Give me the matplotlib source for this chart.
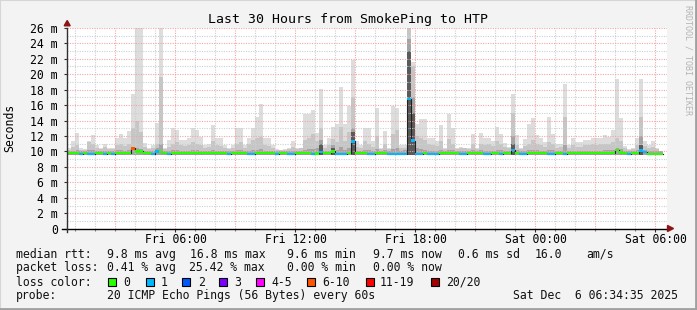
import numpy as np
import matplotlib
matplotlib.use("Agg")
import matplotlib.pyplot as plt
from matplotlib.patches import Rectangle, Polygon

W, H = 697, 310
MONO = "DejaVu Sans Mono"

# time base: Fri 00:34:35, 12 minute consolidated steps
start_hour = 34 / 60 + 35 / 3600
step_hours = 0.2

# lowest single ping seen (smoke floor), ms
min_ms = 9.6

# smoke: top of light / medium / dark layers (ms)
max_ms = [
    10.4, 11.3, 12.4, 10.4, 10.3, 11.3, 12.1, 10.8, 10.5, 10.9,
    10.4, 10.5, 11.8, 12.3, 11.8, 12.6, 17.4, 26.0, 26.0, 11.1,
    10.4, 10.8, 13.7, 26.0, 10.4, 11.5, 13.0, 12.8, 11.5, 11.5,
    11.8, 13.0, 12.8, 11.9, 10.8, 11.0, 13.4, 11.8, 11.8, 10.8,
    10.5, 10.8, 13.0, 13.0, 10.8, 11.8, 13.0, 14.5, 16.1, 11.7,
    11.7, 10.8, 10.3, 10.2, 10.3, 10.5, 11.3, 10.5, 10.5, 14.9,
    14.9, 15.4, 12.4, 18.1, 10.8, 11.7, 13.1, 13.5, 18.4, 13.5,
    15.9, 21.8, 11.3, 10.8, 13.0, 13.0, 11.3, 15.6, 10.4, 12.6,
    10.4, 15.9, 15.6, 10.8, 10.8, 26.0, 21.6, 13.6, 14.2, 14.2,
    11.7, 11.8, 11.3, 13.4, 10.4, 14.8, 13.0, 10.4, 10.6, 10.5,
    10.4, 12.3, 10.4, 12.4, 11.7, 11.7, 11.4, 13.1, 12.3, 11.1,
    10.6, 17.4, 12.1, 10.5, 11.6, 13.5, 14.3, 12.1, 11.7, 11.2,
    14.4, 12.3, 11.0, 11.0, 18.7, 10.8, 11.7, 11.2, 11.2, 11.5,
    11.5, 11.8, 11.7, 11.7, 12.1, 11.9, 12.8, 19.4, 14.3, 10.7,
    10.3, 10.5, 11.8, 19.4, 11.4, 10.8, 11.3, 10.4, 10.1,
]
mid_ms = [
    10.2, 10.6, 10.8, 10.2, 10.2, 11.2, 11.0, 10.5, 10.3, 10.6,
    10.3, 10.3, 10.8, 11.0, 10.7, 11.0, 13.0, 13.9, 12.5, 10.6,
    10.3, 10.5, 11.0, 19.6, 10.3, 10.6, 11.0, 11.2, 10.8, 10.7,
    10.8, 11.2, 11.0, 10.8, 10.5, 10.6, 11.3, 10.8, 10.7, 10.5,
    10.3, 10.5, 11.0, 11.2, 10.5, 10.9, 11.5, 11.8, 11.9, 10.8,
    10.7, 10.4, 10.2, 10.2, 10.2, 10.3, 10.6, 10.3, 10.4, 11.5,
    11.8, 12.2, 11.3, 13.0, 10.5, 10.8, 11.6, 11.2, 13.2, 11.3,
    12.5, 17.0, 10.6, 10.5, 11.3, 11.0, 10.6, 12.0, 10.3, 11.0,
    10.3, 12.3, 12.8, 10.5, 10.5, 26.0, 21.0, 12.0, 11.8, 11.5,
    10.9, 10.8, 10.7, 11.3, 10.3, 11.6, 11.0, 10.3, 10.4, 10.4,
    10.3, 11.0, 10.3, 11.0, 10.8, 10.9, 10.7, 11.4, 11.0, 10.6,
    10.4, 15.0, 10.8, 10.3, 10.7, 11.0, 11.5, 10.9, 10.8, 10.6,
    11.2, 10.9, 10.5, 10.6, 14.5, 10.5, 10.8, 10.6, 10.6, 10.8,
    10.8, 10.9, 10.8, 10.9, 11.0, 11.0, 11.2, 11.8, 11.3, 10.4,
    10.2, 10.3, 10.8, 14.5, 10.7, 10.5, 10.6, 10.3, 10.1,
]
low_ms = [
    10.1, 10.1, 10.2, 10.1, 10.1, 10.2, 10.2, 10.1, 10.1, 10.1,
    10.1, 10.1, 10.2, 10.2, 10.1, 10.2, 10.6, 10.4, 10.3, 10.1,
    10.1, 10.1, 10.4, 11.0, 10.1, 10.1, 10.2, 10.2, 10.1, 10.1,
    10.1, 10.2, 10.2, 10.1, 10.1, 10.1, 10.2, 10.1, 10.1, 10.1,
    10.1, 10.1, 10.2, 10.2, 10.1, 10.1, 10.2, 10.2, 10.3, 10.1,
    10.1, 10.1, 10.1, 10.1, 10.1, 10.1, 10.1, 10.1, 10.1, 10.2,
    10.3, 10.3, 10.4, 11.5, 10.1, 10.1, 10.8, 10.2, 10.6, 10.2,
    10.4, 13.0, 10.1, 10.1, 10.2, 10.2, 10.1, 10.3, 10.1, 10.2,
    10.1, 10.3, 10.4, 10.1, 10.2, 24.5, 17.0, 10.5, 10.3, 10.2,
    10.1, 10.1, 10.1, 10.2, 10.1, 10.2, 10.2, 10.1, 10.1, 10.1,
    10.1, 10.2, 10.1, 10.2, 10.1, 10.1, 10.1, 10.2, 10.2, 10.1,
    10.1, 12.0, 10.2, 10.1, 10.1, 10.2, 10.2, 10.2, 10.1, 10.1,
    10.2, 10.2, 10.1, 10.1, 10.8, 10.1, 10.1, 10.1, 10.1, 10.1,
    10.1, 10.1, 10.1, 10.1, 10.2, 10.2, 10.2, 10.5, 10.3, 10.1,
    10.1, 10.1, 10.2, 12.0, 10.2, 10.1, 10.1, 10.1, 10.0,
]
# darkest smoke core, only in the burst steps (step index -> top ms)
core_ms = {63: 10.9, 66: 10.5, 71: 12.5, 85: 23.0, 86: 15.0, 111: 11.0, 143: 10.8}

median_ms = [
    9.8, 9.8, 9.8, 9.7, 9.8, 9.7, 9.7, 9.8, 9.8, 9.7,
    9.8, 9.7, 9.8, 9.8, 9.8, 9.8, 10.4, 10.0, 10.0, 9.8,
    9.8, 9.7, 10.0, 9.95, 9.8, 9.7, 9.8, 9.8, 9.8, 9.8,
    9.8, 9.8, 9.8, 9.8, 9.8, 9.8, 9.8, 9.8, 9.8, 9.8,
    9.7, 9.8, 9.8, 9.8, 9.8, 9.7, 9.7, 9.8, 9.8, 9.8,
    9.8, 9.8, 9.7, 9.8, 9.8, 9.7, 9.7, 9.8, 9.8, 9.8,
    9.8, 9.7, 9.75, 9.9, 9.8, 9.8, 10.0, 9.7, 9.7, 9.7,
    9.8, 11.3, 9.8, 9.8, 9.8, 9.7, 9.7, 9.8, 9.8, 9.8,
    9.7, 9.7, 9.7, 9.7, 9.7, 16.8, 11.4, 9.7, 9.7, 9.8,
    9.7, 9.7, 9.7, 9.8, 9.8, 9.8, 9.8, 9.8, 9.7, 9.7,
    9.8, 9.8, 9.8, 9.8, 9.7, 9.7, 9.8, 9.8, 9.7, 9.8,
    9.8, 10.2, 9.8, 9.7, 9.7, 9.8, 9.8, 9.8, 9.8, 9.8,
    9.7, 9.7, 9.8, 9.8, 9.7, 9.8, 9.8, 9.8, 9.8, 9.8,
    9.8, 9.8, 9.8, 9.8, 9.8, 9.8, 9.8, 10.2, 9.85, 9.8,
    9.7, 9.8, 9.8, 10.1, 9.95, 9.7, 9.7, 9.7, 9.7,
]
# lost pings out of 20 per step
loss = [
    0, 0, 0, 1, 0, 1, 1, 0, 0, 1,
    0, 1, 0, 0, 0, 0, 6, 0, 0, 0,
    0, 1, 1, 0, 0, 1, 0, 0, 0, 0,
    0, 0, 0, 0, 0, 0, 0, 0, 0, 0,
    1, 0, 0, 0, 0, 1, 1, 0, 0, 0,
    0, 0, 1, 0, 0, 1, 1, 0, 0, 0,
    0, 1, 0, 1, 0, 0, 0, 1, 1, 1,
    0, 1, 0, 0, 0, 1, 1, 0, 0, 0,
    1, 1, 1, 1, 1, 1, 1, 1, 1, 0,
    1, 1, 1, 0, 0, 0, 0, 0, 1, 1,
    0, 0, 0, 0, 1, 1, 0, 0, 1, 0,
    0, 1, 0, 1, 1, 0, 0, 0, 0, 0,
    1, 1, 0, 0, 1, 0, 0, 0, 0, 0,
    0, 0, 0, 0, 0, 0, 0, 0, 0, 0,
    1, 0, 0, 1, 1, 0, 0, 0, 0,
]

loss_labels = ["0", "1", "2", "3", "4-5", "6-10", "11-19", "20/20"]
loss_upper = [0, 1, 2, 3, 5, 10, 19, 20]
loss_colors = ["#26ff00", "#00b8ff", "#0059ff", "#7e00ff", "#ff00ff",
               "#ff5500", "#ff0000", "#a10000"]

tick_hours = [6, 12, 18, 24, 30]
tick_labels = ["Fri 06:00", "Fri 12:00", "Fri 18:00", "Sat 00:00", "Sat 06:00"]
y_ticks = list(range(0, 27, 2))
y_labels = ["0"] + ["%d m" % v for v in y_ticks[1:]]


def fx(x):
    return x / W


def fy(y):
    return 1 - y / H


def loss_color(n):
    for up, c in zip(loss_upper, loss_colors):
        if n <= up:
            return c
    return loss_colors[-1]


n = len(max_ms)
t = start_hour + step_hours * np.arange(n)
med = np.array(median_ms)

fig = plt.figure(figsize=(W / 100, H / 100), dpi=100, facecolor="#f3f3f3")
ax = fig.add_axes([fx(67), fy(228.7), 600 / W, (228.7 - 27.8) / H])
ax.set_facecolor("white")
ax.set_xlim(start_hour, start_hour + 30)
ax.set_ylim(0, 26)
for s in ax.spines.values():
    s.set_visible(False)

# smoke layers
ax.bar(t, np.array(max_ms) - min_ms, bottom=min_ms, width=step_hours, align="edge",
       color="#dddddd", lw=0, zorder=1)
ax.bar(t, np.array(mid_ms) - min_ms, bottom=min_ms, width=step_hours, align="edge",
       color="#c6c6c6", lw=0, zorder=1.2)
ax.bar(t, np.array(low_ms) - min_ms, bottom=min_ms, width=step_hours, align="edge",
       color="#a4a4a4", lw=0, zorder=1.4)
core_idx = list(core_ms.keys())
ax.bar(t[core_idx], np.array(list(core_ms.values())) - min_ms, bottom=min_ms,
       width=step_hours, align="edge", color="#5a5a5a", lw=0, zorder=1.6)

# grid
for h in range(1, 31):
    col = "#f2a6a6" if h % 3 == 0 else "#cfcfcf"
    ax.axvline(h, color=col, lw=0.8, ls=(0, (1, 1.2)), zorder=2)
for v in range(1, 27):
    col = "#f2a6a6" if v % 2 == 0 else "#cfcfcf"
    ax.axhline(v, color=col, lw=0.8, ls=(0, (1, 1.2)), zorder=2)

# median line and loss colour bands
ax.step(np.append(t, t[-1] + step_hours), np.append(med, med[-1]), where="post",
        color="#202020", lw=0.8, zorder=5)
ax.bar(t, 0.32, bottom=med - 0.16, width=step_hours, align="edge",
       color=[loss_color(v) for v in loss], lw=0, zorder=6)

# ticks
ax.set_xticks(tick_hours)
ax.set_xticklabels(tick_labels, fontfamily=MONO, fontsize=8.3)
ax.set_xticks(range(1, 31), minor=True)
ax.set_yticks(y_ticks)
ax.set_yticklabels(y_labels, fontfamily=MONO, fontsize=8.3)
ax.tick_params(axis="x", which="major", length=2, width=0.8, color="#303030", pad=0.8)
ax.tick_params(axis="x", which="minor", length=1.5, width=0.8, color="#808080")
ax.tick_params(axis="y", which="major", length=2, width=0.8, color="#303030", pad=4.5)

# axes lines and arrows
ax.plot([-5 / 600, 1.0], [0, 0], transform=ax.transAxes, color="black", lw=1,
        clip_on=False, zorder=7)
ax.plot([0, 0], [-3 / 201, 1.0], transform=ax.transAxes, color="#303030", lw=1,
        clip_on=False, zorder=7)
fig.patches.append(Polygon([(fx(64.2), fy(25.8)), (fx(70.2), fy(25.8)), (fx(67.2), fy(20.5))],
                           closed=True, transform=fig.transFigure, color="#8b1414", zorder=8))
fig.patches.append(Polygon([(fx(667.5), fy(225.5)), (fx(667.5), fy(231.5)), (fx(673.5), fy(228.5))],
                           closed=True, transform=fig.transFigure, color="#8b1414", zorder=8))

# titles
fig.text(fx(348), fy(19), "Last 30 Hours from SmokePing to HTP", fontfamily=MONO,
         fontsize=9.5, ha="center", va="center")
fig.text(fx(10), fy(128), "Seconds", fontfamily=MONO, fontsize=8.3, rotation=90,
         ha="center", va="center")
fig.text(fx(688), fy(5), "RRDTOOL / TOBI OETIKER", fontfamily=MONO, fontsize=6,
         rotation=270, ha="center", va="top", color="#b4b4b4")

# legend rows
rows = [
    (254.3, [(16, "median rtt:"), (107, "9.8 ms avg"), (190, "16.8 ms max"),
             (286.7, "9.6 ms min"), (372.7, "9.7 ms now"), (458, "0.6 ms sd"),
             (535, "16.0"), (586.7, "am/s")]),
    (267.7, [(16, "packet loss:"), (107, "0.41 % avg"), (189, "25.42 % max"),
             (286.7, "0.00 % min"), (372.7, "0.00 % now")]),
    (282.3, [(16, "loss color:")]),
    (295.7, [(16, "probe:"), (107, "20 ICMP Echo Pings (56 Bytes) every 60s"),
             (513.3, "Sat Dec  6 06:34:35 2025")]),
]
for y, items in rows:
    for x, s in items:
        fig.text(fx(x), fy(y), s, fontfamily=MONO, fontsize=8.3, ha="left",
                 va="center", color="#111111")

box_x = [108, 145.7, 182.3, 219.3, 256, 307.3, 365.7, 431]
lab_x = [123, 161, 197.7, 234.3, 271, 322.7, 380, 445.7]
for bx, lx, lab, col in zip(box_x, lab_x, loss_labels, loss_colors):
    fig.patches.append(Rectangle((fx(bx), fy(286.3)), 8 / W, 8 / H, transform=fig.transFigure,
                                 facecolor=col, edgecolor="black", lw=0.8))
    fig.text(fx(lx), fy(282.3), lab, fontfamily=MONO, fontsize=8.3, ha="left",
             va="center", color="#111111")

# frame
fig.patches.append(Rectangle((0, 0), 1, 1, transform=fig.transFigure, fill=False,
                             edgecolor="#d6d6d6", lw=1.5))
fig.add_artist(plt.Line2D([0, 1], [1 / H, 1 / H], transform=fig.transFigure,
                          color="#a0a0a0", lw=2))
fig.add_artist(plt.Line2D([1 - 1 / W, 1 - 1 / W], [0, 1], transform=fig.transFigure,
                          color="#a0a0a0", lw=2))

fig.savefig("out.png", dpi=100, facecolor=fig.get_facecolor())
